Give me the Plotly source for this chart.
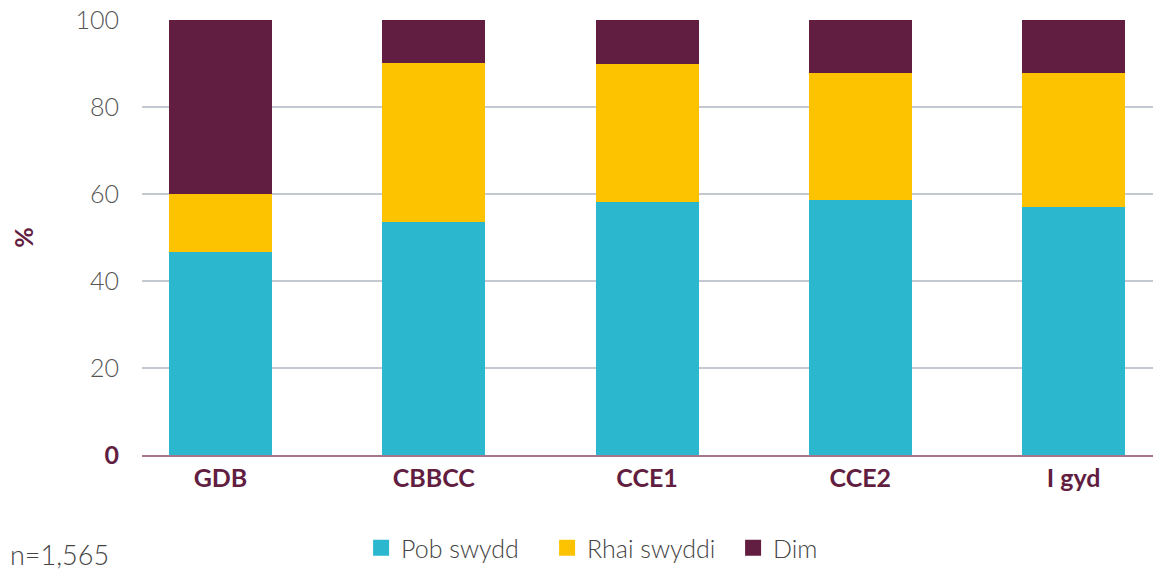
import plotly.graph_objects as go

categories = ["GDB", "CBBCC", "CCE1", "CCE2", "I gyd"]
pob_swydd = [46.6, 53.5, 58.2, 58.7, 57.1]
rhai_swyddi = [13.5, 36.6, 31.6, 29.1, 30.7]
dim = [39.9, 9.9, 10.2, 12.2, 12.2]
series_names = ["Pob swydd", "Rhai swyddi", "Dim"]
colors = ["#2bb7ce", "#fdc300", "#621e41"]
y_ticks = [0, 20, 40, 60, 80, 100]
y_ticktext = ["<b><span style='color:#621e41'>0</span></b>", "20", "40", "60", "80", "100"]

MAROON = "#621e41"
FONT = "Lato, 'Open Sans', sans-serif"

fig = go.Figure()
for name, vals, col in zip(series_names, [pob_swydd, rhai_swyddi, dim], colors):
    fig.add_trace(go.Bar(
        x=categories, y=vals, name=name, marker_color=col,
        marker_line_width=0, width=0.483, showlegend=False,
    ))
# legend-only entries with larger square swatches
for name, col in zip(series_names, colors):
    fig.add_trace(go.Scatter(
        x=[None], y=[None], mode="markers", name=name,
        marker=dict(symbol="square", size=20, color=col),
    ))

fig.update_layout(
    barmode="stack",
    width=1153, height=563,
    margin=dict(l=134, r=0, t=12, b=115),
    plot_bgcolor="white", paper_bgcolor="white",
    font=dict(family=FONT, color="#444444", size=20),
    showlegend=True,
    legend=dict(
        orientation="h", x=0.215, xanchor="left", y=-0.162, yanchor="top",
        font=dict(size=25, color="#444444", family=FONT, weight=300),
        traceorder="normal", itemwidth=30, entrywidth=141,
    ),
    xaxis=dict(
        range=[-0.368, 4.41],
        automargin=False,
        showgrid=False,
        showline=True, linecolor="#a8758f", linewidth=1.5,
        ticks="",
        tickfont=dict(size=25, color=MAROON, family=FONT, weight="bold"),
    ),
    yaxis=dict(
        range=[0, 100],
        automargin=False,
        tickvals=y_ticks, ticktext=y_ticktext,
        ticklabeloverflow="allow",
        showgrid=True, gridcolor="#c4c8d0", gridwidth=1.5,
        zeroline=False, showline=False, ticks="",
        tickfont=dict(size=25, color="#555555", family=FONT, weight=300),
        ticklabelstandoff=22,
        title=dict(text="<b>%</b>", font=dict(size=25, color=MAROON, family=FONT), standoff=48),
    ),
)

fig.add_annotation(
    text="n=1,565", xref="paper", yref="paper",
    x=-134/1019, xanchor="left", y=-(556-456)/436, yanchor="middle",
    showarrow=False, font=dict(size=27, color="#444444", family=FONT, weight=300),
)

fig.write_html("out.html")
